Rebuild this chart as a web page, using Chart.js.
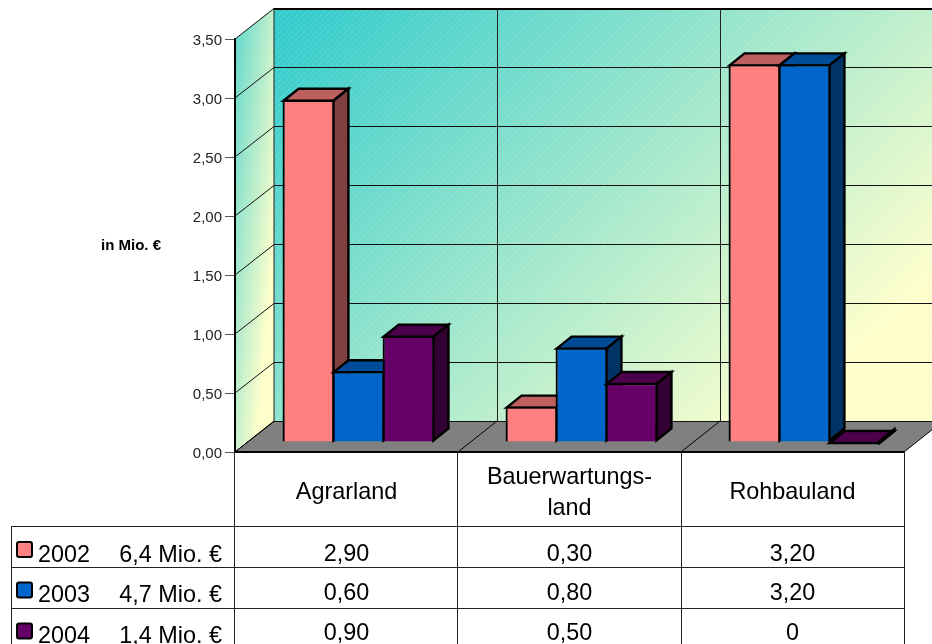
<!DOCTYPE html>
<html>
<head>
<meta charset="utf-8">
<title>Chart</title>
<script src="https://cdn.jsdelivr.net/npm/chart.js@4"></script>
<style>
  html, body { margin: 0; padding: 0; background: #fff; overflow: hidden; }
  canvas { display: block; }
</style>
</head>
<body>
<canvas id="myChart" width="932" height="644"></canvas>
<script>
const categories = ['Agrarland', 'Bauerwartungs-\nland', 'Rohbauland']
const seriesNames = ['2002', '2003', '2004']
const seriesTotals = ['6,4 Mio. €', '4,7 Mio. €', '1,4 Mio. €']
const values2002 = [2.9, 0.3, 3.2]
const values2003 = [0.6, 0.8, 3.2]
const values2004 = [0.9, 0.5, 0]
const tickLabels = ['0,00', '0,50', '1,00', '1,50', '2,00', '2,50', '3,00', '3,50']
const frontColors = ['#ff8080', '#0066cc', '#660066']
const topColors = ['#bf6060', '#004c99', '#4c004c']
const sideColors = ['#804040', '#003366', '#330033']

const FONT = '"Liberation Sans", Arial, sans-serif'
const WALL = { dx: 39, dy: -31 }
const BAR_SHIFT = { dx: 12, dy: -10 }
const BAR_DEPTH = { dx: 15, dy: -12 }

function poly(ctx, pts, fill, stroke, width) {
  ctx.beginPath()
  pts.forEach((p, i) => i ? ctx.lineTo(p[0], p[1]) : ctx.moveTo(p[0], p[1]))
  ctx.closePath()
  if (fill) { ctx.fillStyle = fill; ctx.fill() }
  if (stroke) { ctx.strokeStyle = stroke; ctx.lineWidth = width; ctx.stroke() }
}

function line(ctx, x1, y1, x2, y2, color, width) {
  ctx.beginPath()
  ctx.moveTo(x1, y1)
  ctx.lineTo(x2, y2)
  ctx.strokeStyle = color
  ctx.lineWidth = width
  ctx.stroke()
}

function formatValue(v) {
  return v === 0 ? '0' : v.toFixed(2).replace('.', ',')
}

// faint diagonal hatch seen on the wall gradient
function hatchPattern(ctx) {
  const tile = document.createElement('canvas')
  tile.width = 6
  tile.height = 6
  const t = tile.getContext('2d')
  t.strokeStyle = 'rgba(255,255,255,0.13)'
  t.lineWidth = 1.2
  t.beginPath()
  t.moveTo(-1, 7)
  t.lineTo(7, -1)
  t.stroke()
  return ctx.createPattern(tile, 'repeat')
}

// walls and floor behind the bars
const walls = {
  id: 'walls',
  beforeDraw(chart) {
    const { ctx, chartArea: a, scales: { y } } = chart
    const bx = a.left + WALL.dx
    const rx = a.right + WALL.dx
    const topY = a.top + WALL.dy
    const botY = a.bottom + WALL.dy
    const stepX = (a.right - a.left) / categories.length

    ctx.save()
    ctx.fillStyle = '#fff'
    ctx.fillRect(0, 0, chart.width, chart.height)

    const backPts = [[bx, topY], [rx, topY], [rx, botY], [bx, botY]]
    const back = ctx.createLinearGradient(bx + 16, topY + 17, bx + 456, topY + 467)
    back.addColorStop(0, '#33cccc')
    back.addColorStop(1, '#ffffcc')
    poly(ctx, backPts, back)
    poly(ctx, backPts, hatchPattern(ctx))

    const side = ctx.createLinearGradient(a.left - 20, a.top, a.left + 58, a.top + 7)
    side.addColorStop(0, '#33cccc')
    side.addColorStop(1, '#ffffcc')
    poly(ctx, [[a.left, a.top], [bx, topY], [bx, botY], [a.left, a.bottom]], side)

    poly(ctx, [[a.left, a.bottom], [bx, botY], [rx, botY], [a.right, a.bottom]], '#808080')

    y.ticks.forEach(t => {
      const py = y.getPixelForValue(t.value)
      const by = Math.round(py + WALL.dy) + 0.5
      line(ctx, a.left, py, bx, by, '#111', 1)
      line(ctx, bx, by, rx, by, '#111', 1)
    })
    for (let i = 0; i <= categories.length; i++) {
      const x = a.left + stepX * i
      if (i > 0 && i < categories.length) line(ctx, x + WALL.dx + 0.5, topY, x + WALL.dx + 0.5, botY, '#222', 1)
      line(ctx, x, a.bottom, x + WALL.dx, botY, '#000', 1)
    }
    line(ctx, bx, botY, bx, topY, '#222', 1)
    line(ctx, bx, topY + 1, rx, topY + 1, '#000', 2)
    ctx.restore()
  }
}

// draws left to right: top and side faces, then the library's own bar moved back
const bars3d = {
  id: 'bars3d',
  beforeDatasetsDraw(chart) {
    const { ctx } = chart
    const d = BAR_DEPTH
    chart.data.datasets.forEach((ds, i) => {
      const meta = chart.getDatasetMeta(i)
      ctx.save()
      ctx.translate(BAR_SHIFT.dx, BAR_SHIFT.dy)
      ctx.lineJoin = 'miter'
      meta.data.forEach(el => {
        const p = el.getProps(['x', 'y', 'base', 'width'])
        const l = p.x - p.width / 2 + 1
        const r = p.x + p.width / 2 - 1
        const t = p.y + 1
        const b = p.base - 1
        poly(ctx, [[l, t], [l + d.dx, t + d.dy], [r + d.dx, t + d.dy], [r, t]], topColors[i], '#000', 2.4)
        poly(ctx, [[r, t], [r + d.dx, t + d.dy], [r + d.dx, b + d.dy], [r, b]], sideColors[i], '#000', 2.4)
      })
      meta.controller.draw()
      ctx.restore()
    })
    return false
  }
}

// data table under the plot
const dataTable = {
  id: 'dataTable',
  afterDraw(chart) {
    const { ctx, chartArea: a } = chart
    const stepX = (a.right - a.left) / categories.length
    const rowLines = [526, 567, 608]
    const rowBaselines = [561, 600, 640]
    const labelBaselines = [562, 602, 643]
    const keyTops = [542, 582.5, 623.5]
    const tableLeft = 11
    const rows = [values2002, values2003, values2004]

    ctx.save()
    line(ctx, a.left, a.bottom, a.right, a.bottom, '#000', 2)
    for (let i = 0; i <= categories.length; i++) {
      const x = Math.floor(a.left - 0.5 + (stepX + 0.34) * i) + 0.5
      line(ctx, x, a.bottom, x, chart.height, '#222', 1)
    }
    rowLines.forEach(y => line(ctx, tableLeft, y + 0.5, a.right, y + 0.5, '#222', 1))
    line(ctx, tableLeft + 0.5, rowLines[0], tableLeft + 0.5, chart.height, '#222', 1)

    ctx.fillStyle = '#000'
    ctx.font = '23.4px ' + FONT
    ctx.textBaseline = 'alphabetic'

    ctx.textAlign = 'center'
    categories.forEach((c, i) => {
      const cx = a.left + stepX * (i + 0.5)
      const parts = c.split('\n')
      parts.forEach((s, k) => {
        ctx.fillText(s, cx, parts.length > 1 ? 484 + k * 31 : 499)
      })
    })
    rows.forEach((row, r) => {
      row.forEach((v, i) => {
        ctx.fillText(formatValue(v), a.left + stepX * (i + 0.5), rowBaselines[r])
      })
    })

    seriesNames.forEach((name, r) => {
      ctx.beginPath()
      ctx.roundRect(17, keyTops[r], 15, 15, 2)
      ctx.fillStyle = frontColors[r]
      ctx.fill()
      ctx.strokeStyle = '#000'
      ctx.lineWidth = 2
      ctx.stroke()
      ctx.fillStyle = '#000'
      ctx.textAlign = 'left'
      ctx.fillText(name, 38, labelBaselines[r])
      ctx.textAlign = 'right'
      ctx.fillText(seriesTotals[r], 222, labelBaselines[r])
    })

    ctx.textAlign = 'center'
    ctx.font = 'bold 15px ' + FONT
    ctx.fillText('in Mio. €', 131, 250)
    ctx.restore()
  }
}

new Chart(document.getElementById('myChart'), {
  type: 'bar',
  data: {
    labels: categories,
    datasets: [values2002, values2003, values2004].map((vals, i) => ({
      label: seriesNames[i],
      data: vals,
      backgroundColor: frontColors[i],
      borderColor: '#000',
      borderWidth: 2.2,
      clip: false,
      categoryPercentage: 0.673,
      barPercentage: 1.037
    }))
  },
  options: {
    responsive: false,
    animation: false,
    layout: { padding: { top: 39, right: 28, bottom: 192, left: 0 } },
    plugins: { legend: { display: false }, tooltip: { enabled: false } },
    scales: {
      x: { display: false },
      y: {
        min: 0,
        max: 3.5,
        afterFit(scale) { scale.width = 235 },
        border: { display: true, color: '#000', width: 2 },
        grid: { drawOnChartArea: false, drawTicks: true, tickLength: 10, tickColor: '#555' },
        ticks: {
          stepSize: 0.5,
          padding: 3,
          labelOffset: 2,
          color: '#222',
          font: { family: FONT, size: 15 },
          callback: (v, i) => tickLabels[i]
        }
      }
    }
  },
  plugins: [walls, bars3d, dataTable]
})
</script>
</body>
</html>
